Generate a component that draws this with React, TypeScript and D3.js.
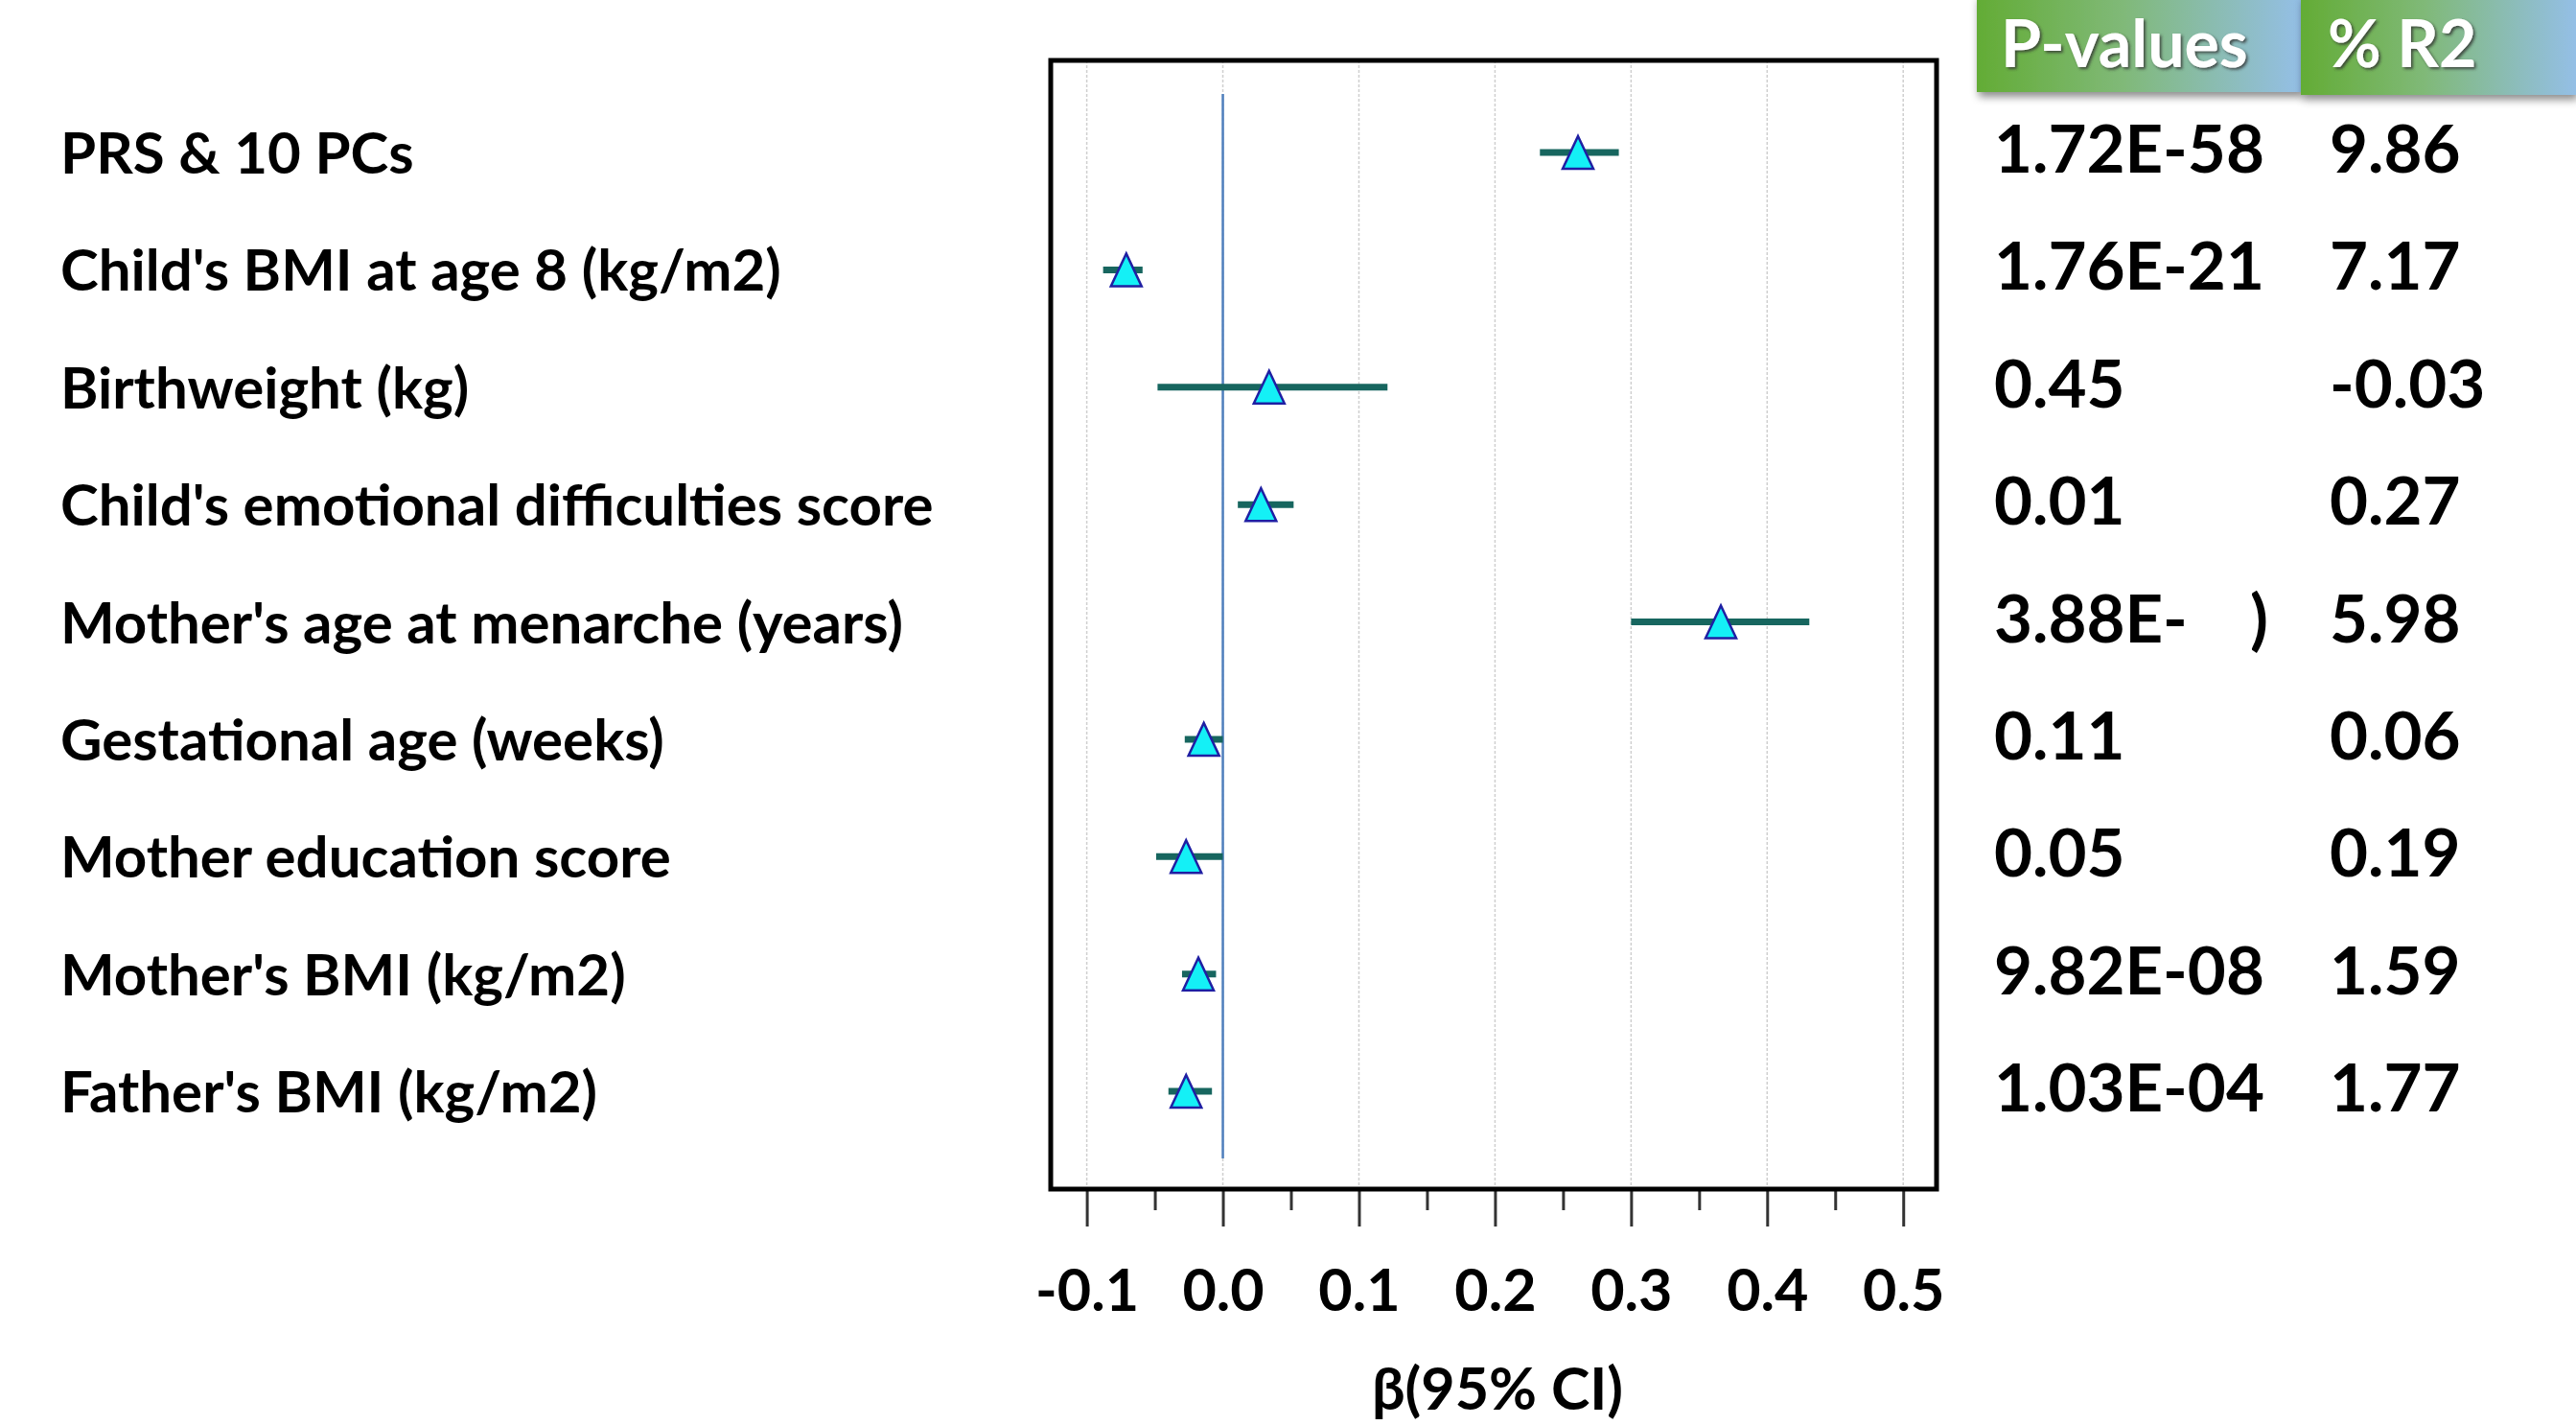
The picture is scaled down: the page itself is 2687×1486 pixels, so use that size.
import React, { useEffect, useRef } from 'react';
import * as d3 from 'd3';

// rows, top to bottom
const labels = [
    'PRS & 10 PCs',
    "Child's BMI at age 8 (kg/m2)",
    'Birthweight (kg)',
    "Child's emotional difficulties score",
    "Mother's age at menarche (years)",
    'Gestational age (weeks)',
    'Mother education score',
    "Mother's BMI (kg/m2)",
    "Father's BMI (kg/m2)"
];
const beta = [0.261, -0.071, 0.034, 0.028, 0.366, -0.014, -0.027, -0.018, -0.027];
const ciLow = [0.233, -0.088, -0.048, 0.011, 0.300, -0.028, -0.049, -0.030, -0.040];
const ciHigh = [0.291, -0.059, 0.121, 0.052, 0.431, 0.0, 0.0, -0.005, -0.008];
const pValues = ['1.72E-58', '1.76E-21', '0.45', '0.01', '3.88E-', '0.11', '0.05', '9.82E-08', '1.03E-04'];
const r2 = ['9.86', '7.17', '-0.03', '0.27', '5.98', '0.06', '0.19', '1.59', '1.77'];
const majorTicks = [-0.1, 0.0, 0.1, 0.2, 0.3, 0.4, 0.5];
const minorTicks = [-0.05, 0.05, 0.15, 0.25, 0.35, 0.45];
const headers = ['P-values', '% R2'];

const FONT = 'Lato, "Open Sans", sans-serif';

const App = () => {
    const ref = useRef<SVGSVGElement | null>(null);

    useEffect(() => {
        document.body.style.margin = '0';
        const width = 2687;
        const height = 1486;
        const svg = d3.select(ref.current);
        svg.selectAll('*').remove();
        svg.attr('width', width).attr('height', height);

        // plot frame
        const box = { left: 1096, right: 2020, top: 63, bottom: 1240 };

        const xScale = d3.scaleLinear()
            .domain([-0.1265, 0.5245])
            .range([box.left, box.right]);
        const yScale = d3.scalePoint()
            .domain(labels)
            .range([159, 1138]);

        const defs = svg.append('defs');
        const grad = defs.append('linearGradient')
            .attr('id', 'hdrGrad')
            .attr('x1', '0%').attr('x2', '100%')
            .attr('y1', '0%').attr('y2', '0%');
        grad.append('stop').attr('offset', '0%').attr('stop-color', '#63ac35');
        grad.append('stop').attr('offset', '45%').attr('stop-color', '#80b978');
        grad.append('stop').attr('offset', '100%').attr('stop-color', '#94bfe6');
        const boxShadow = defs.append('filter').attr('id', 'boxShadow')
            .attr('x', '-10%').attr('y', '-10%').attr('width', '130%').attr('height', '140%');
        boxShadow.append('feDropShadow')
            .attr('dx', 2).attr('dy', 5).attr('stdDeviation', 4)
            .attr('flood-color', '#000').attr('flood-opacity', 0.45);
        const txtShadow = defs.append('filter').attr('id', 'txtShadow');
        txtShadow.append('feDropShadow')
            .attr('dx', 2).attr('dy', 2).attr('stdDeviation', 1.5)
            .attr('flood-color', '#333').attr('flood-opacity', 0.8);

        // gridlines
        svg.append('g')
            .selectAll('line')
            .data(majorTicks)
            .enter()
            .append('line')
            .attr('x1', d => xScale(d))
            .attr('x2', d => xScale(d))
            .attr('y1', box.top)
            .attr('y2', box.bottom)
            .attr('stroke', '#cfcfcf')
            .attr('stroke-width', 1.5)
            .attr('stroke-dasharray', '3,2');

        // zero line
        svg.append('line')
            .attr('x1', xScale(0))
            .attr('x2', xScale(0))
            .attr('y1', 98)
            .attr('y2', 1208)
            .attr('stroke', '#4f7fbd')
            .attr('stroke-width', 2.5);

        // axes
        const gMajor = svg.append('g')
            .attr('transform', `translate(0, ${box.bottom})`)
            .call(d3.axisBottom(xScale)
                .tickValues(majorTicks)
                .tickSize(39)
                .tickFormat(d => (+d).toFixed(1)));
        gMajor.select('.domain').remove();
        gMajor.selectAll('.tick line').attr('stroke', '#333').attr('stroke-width', 3);
        gMajor.selectAll('.tick text')
            .attr('y', 127)
            .attr('dy', 0)
            .attr('fill', '#000')
            .style('font-family', FONT)
            .style('font-weight', 700)
            .style('font-size', '61px');

        const gMinor = svg.append('g')
            .attr('transform', `translate(0, ${box.bottom})`)
            .call(d3.axisBottom(xScale)
                .tickValues(minorTicks)
                .tickSize(22)
                .tickFormat(() => ''));
        gMinor.select('.domain').remove();
        gMinor.selectAll('.tick line').attr('stroke', '#333').attr('stroke-width', 3);

        svg.append('text')
            .attr('x', 1562)
            .attr('y', 1470)
            .attr('text-anchor', 'middle')
            .style('font-family', FONT)
            .style('font-weight', 700)
            .style('font-size', '61px')
            .text('β(95% CI)');

        // frame
        svg.append('rect')
            .attr('x', box.left)
            .attr('y', box.top)
            .attr('width', box.right - box.left)
            .attr('height', box.bottom - box.top)
            .attr('fill', 'none')
            .attr('stroke', '#000')
            .attr('stroke-width', 5);

        // CI whiskers
        svg.append('g')
            .selectAll('line')
            .data(labels)
            .enter()
            .append('line')
            .attr('x1', (d, i) => xScale(ciLow[i]))
            .attr('x2', (d, i) => xScale(ciHigh[i]))
            .attr('y1', d => yScale(d)!)
            .attr('y2', d => yScale(d)!)
            .attr('stroke', '#17665f')
            .attr('stroke-width', 7);

        // point markers
        const tri = d3.line()([[0, -17], [16, 17], [-16, 17]]) + 'Z';
        svg.append('g')
            .selectAll('path')
            .data(labels)
            .enter()
            .append('path')
            .attr('d', tri)
            .attr('transform', (d, i) => `translate(${xScale(beta[i])}, ${yScale(d)})`)
            .attr('fill', '#14f0f6')
            .attr('stroke', '#1f1fa3')
            .attr('stroke-width', 2.5)
            .attr('stroke-linejoin', 'miter');

        // row labels
        svg.append('g')
            .selectAll('text')
            .data(labels)
            .enter()
            .append('text')
            .attr('x', 63)
            .attr('y', d => yScale(d)! + 22)
            .style('font-family', FONT)
            .style('font-weight', 700)
            .style('font-size', '60px')
            .text(d => d);

        // table columns
        const colStyle = (sel: any) => sel
            .style('font-family', FONT)
            .style('font-weight', 700)
            .style('font-size', '69px');
        svg.append('g')
            .selectAll('text')
            .data(labels)
            .enter()
            .append('text')
            .attr('x', 2080)
            .attr('y', d => yScale(d)! + 21)
            .call(colStyle)
            .text((d, i) => pValues[i]);
        svg.append('text')
            .attr('x', 2366)
            .attr('y', yScale(labels[4])! + 21)
            .attr('text-anchor', 'end')
            .call(colStyle)
            .text(')');
        svg.append('g')
            .selectAll('text')
            .data(labels)
            .enter()
            .append('text')
            .attr('x', 2430)
            .attr('y', d => yScale(d)! + 21)
            .call(colStyle)
            .text((d, i) => r2[i]);

        // header boxes
        const hdrX = [2062, 2400];
        const hdrW = [338, 287];
        const hdrH = [96, 99];
        const hdrTextX = [2087, 2428];
        const hdr = svg.append('g');
        hdr.selectAll('rect')
            .data(headers)
            .enter()
            .append('rect')
            .attr('x', (d, i) => hdrX[i])
            .attr('y', -5)
            .attr('width', (d, i) => hdrW[i])
            .attr('height', (d, i) => hdrH[i] + 5)
            .attr('fill', 'url(#hdrGrad)')
            .attr('filter', 'url(#boxShadow)');
        hdr.selectAll('text')
            .data(headers)
            .enter()
            .append('text')
            .attr('x', (d, i) => hdrTextX[i])
            .attr('y', 70)
            .attr('fill', '#fff')
            .attr('filter', 'url(#txtShadow)')
            .style('font-family', FONT)
            .style('font-weight', 700)
            .style('font-size', '68px')
            .text(d => d);
    }, []);

    return (
        <div className="ForestChart">
            <svg ref={ref} style={{ display: 'block', background: '#fff' }}></svg>
        </div>
    );
};

export default App;
